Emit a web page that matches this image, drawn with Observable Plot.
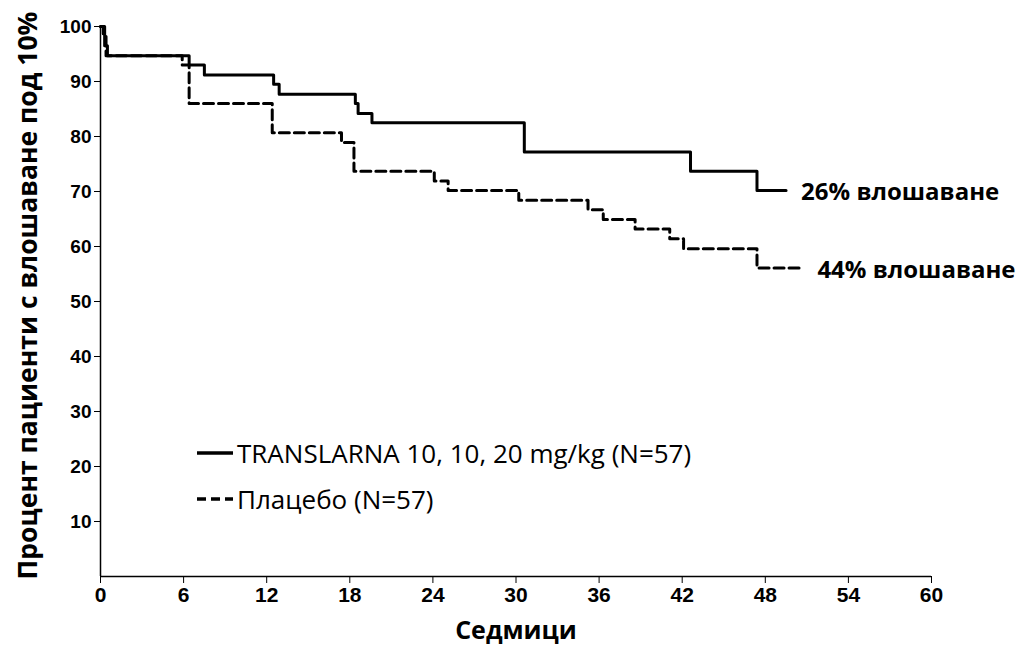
<!DOCTYPE html>
<html>
<head>
<meta charset="utf-8">
<script src="https://cdn.jsdelivr.net/npm/d3@7"></script>
<script src="https://cdn.jsdelivr.net/npm/@observablehq/plot@0.6"></script>
<style>
  body { margin: 0; background: #fff; }
  #wrap { position: relative; width: 1018px; height: 649px; }
  .legend { position: absolute; left: 197px; display: flex; align-items: center;
            font-family: "Open Sans", sans-serif; font-size: 26px; color: #000; white-space: nowrap; }
  .legend svg { margin-right: 4px; }
</style>
</head>
<body>
<div id="wrap"></div>
<script>
// ---- data ----
const weeksTranslarna = [0, 0.3, 0.5, 6.4, 7.5, 12.5, 12.9, 18.4, 18.6, 19.6, 30.6, 42.6, 47.4, 49.5];
const pctTranslarna   = [100, 96.5, 94.7, 93.0, 91.2, 89.5, 87.7, 86.0, 84.2, 82.5, 77.2, 73.7, 70.2, 70.2];
const weeksPlacebo    = [0, 0.2, 0.4, 5.9, 6.4, 12.4, 17.4, 18.3, 24.1, 25.1, 30.2, 35.2, 36.3, 38.6, 41.1, 42.1, 47.4, 50.75];
const pctPlacebo      = [100, 98.2, 94.7, 93.0, 86.0, 80.7, 78.9, 73.7, 71.9, 70.2, 68.4, 66.7, 64.9, 63.2, 61.4, 59.6, 56.1, 56.1];
const xTicks = [0, 6, 12, 18, 24, 30, 36, 42, 48, 54, 60];
const yTicks = [10, 20, 30, 40, 50, 60, 70, 80, 90, 100];
const seriesNames = ["TRANSLARNA 10, 10, 20 mg/kg (N=57)", "Плацебо (N=57)"];
const endLabels = ["26% влошаване", "44% влошаване"];
const xLabel = "Седмици";
const yLabel = "Процент пациенти с влошаване под 10%";

const translarna = weeksTranslarna.map((w, i) => ({week: w, pct: pctTranslarna[i]}));
const placebo = weeksPlacebo.map((w, i) => ({week: w, pct: pctPlacebo[i]}));

const tickFont = "'Liberation Sans Narrow', 'Liberation Sans', Arial, sans-serif";
const yTickFont = "'Liberation Sans', Arial, sans-serif";
const labelFont = "'Open Sans', sans-serif";

const chart = Plot.plot({
  width: 1018,
  height: 649,
  marginLeft: 100,
  marginRight: 87,
  marginTop: 26,
  marginBottom: 73,
  x: {domain: [0, 60]},
  y: {domain: [0, 100]},
  style: {background: "#fff", color: "#000", fontFamily: yTickFont, fontSize: "19px", fontWeight: "bold"},
  marks: [
    Plot.axisX({ticks: xTicks, tickSize: 7, tickPadding: 4, label: null, fontSize: 21, fontWeight: "bold", fontFamily: tickFont}),
    Plot.axisY({ticks: yTicks, tickSize: 6, tickPadding: 3, label: null, fontSize: 19, fontWeight: "bold", fontFamily: yTickFont}),
    Plot.ruleX([0], {stroke: "#000", strokeWidth: 1.5}),
    Plot.ruleY([0], {stroke: "#000", strokeWidth: 1.5}),
    Plot.line(translarna, {x: "week", y: "pct", curve: "step-after", stroke: "#000", strokeWidth: 3}),
    Plot.line(placebo, {x: "week", y: "pct", curve: "step-after", stroke: "#000", strokeWidth: 3, strokeDasharray: "10,5"}),
    Plot.text([translarna[translarna.length - 1]], {x: "week", y: "pct", text: () => endLabels[0],
      textAnchor: "start", dx: 15, dy: 2, fontSize: 24, fontWeight: "bold", fontFamily: labelFont}),
    Plot.text([placebo[placebo.length - 1]], {x: "week", y: "pct", text: () => endLabels[1],
      textAnchor: "start", dx: 14, dy: 2, fontSize: 24, fontWeight: "bold", fontFamily: labelFont}),
    Plot.text([xLabel], {frameAnchor: "bottom", dy: 62, fontSize: 25, fontWeight: "bold", fontFamily: labelFont}),
    Plot.text([yLabel], {frameAnchor: "left", textAnchor: "middle", rotate: -90, dx: -72, dy: -6,
      fontSize: 26.5, fontWeight: "bold", fontFamily: labelFont})
  ]
});

const wrap = document.getElementById("wrap");
wrap.appendChild(chart);

// legend (inside the plot area, lower left)
const legendTops = [453, 499];
const dashes = ["none", "9,5"];
seriesNames.forEach((name, i) => {
  const div = document.createElement("div");
  div.className = "legend";
  div.style.top = (legendTops[i] - 20) + "px";
  div.style.height = "40px";
  div.innerHTML = `<svg width="36" height="10"><line x1="0" x2="36" y1="5" y2="5" stroke="#000" stroke-width="3.5" stroke-dasharray="${dashes[i]}"/></svg><span>${name}</span>`;
  wrap.appendChild(div);
});
</script>
</body>
</html>
